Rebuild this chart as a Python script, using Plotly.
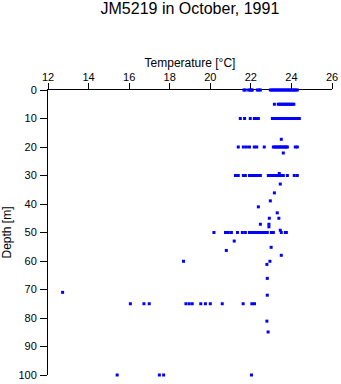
import plotly.graph_objects as go

# ---- data (temperature in degC, depth in m) ----
temp_0m = [21.66, 21.72, 21.89, 21.96, 22.03, 22.07, 22.32, 22.40, 22.47,
           22.96, 23.03, 23.10, 23.17, 23.24, 23.31, 23.38, 23.45, 23.52, 23.59,
           23.66, 23.73, 23.80, 23.87, 23.94, 24.01, 24.08, 24.15, 24.22, 24.29]
temp_5m = [23.16, 23.35, 23.42, 23.49, 23.56, 23.63, 23.70, 23.77, 23.84,
           23.91, 23.98, 24.05, 24.12]
temp_10m = [21.48, 21.69, 21.97, 22.17, 22.22, 22.29, 22.37,
            23.06, 23.13, 23.20, 23.27, 23.34, 23.41, 23.48, 23.55, 23.62, 23.69,
            23.76, 23.83, 23.90, 23.97, 24.04, 24.11, 24.18, 24.25, 24.32, 24.39]
temp_20m = [21.38, 21.63, 21.78, 21.93, 22.17, 22.29, 22.66,
            23.11, 23.18, 23.25, 23.32, 23.39, 23.46, 23.53, 23.60, 23.67, 23.74,
            23.80, 24.19, 24.29]
temp_30m = [21.24, 21.38, 21.63, 21.73, 21.93, 22.00, 22.07, 22.14, 22.21,
            22.28, 22.35, 22.47, 22.86, 22.93, 23.00, 23.07, 23.14, 23.21, 23.28,
            23.35, 23.42, 23.49, 23.60, 23.80, 24.14, 24.29]
temp_50m = [20.18, 20.75, 20.89, 21.04, 21.34, 21.58, 21.73, 21.93, 22.00,
            22.07, 22.14, 22.21, 22.28, 22.35, 22.42, 22.49, 22.56, 22.63, 22.70,
            22.81, 23.01, 23.11, 23.50, 23.70, 23.75]
temp_75m = [16.06, 16.73, 16.99, 18.80, 18.96, 19.11, 19.53, 19.76, 20.00,
            20.59, 21.62, 22.05, 22.18]
temp_100m = [15.41, 17.49, 17.70, 22.03]

other_temp = [23.50, 23.60, 23.40, 23.45, 23.16, 22.96, 22.37, 23.30, 22.91,
              23.38, 22.47, 22.89, 22.89, 23.45, 21.18, 23.00, 20.79, 23.50,
              18.68, 22.94, 22.79, 22.81, 12.72, 22.81, 22.79, 22.85]
other_depth = [17.3, 22.1, 29.3, 33.0, 36.1, 38.9, 41.0, 43.1, 45.0,
               45.0, 47.1, 47.1, 48.0, 49.2, 53.0, 55.2, 56.3, 58.0,
               60.1, 60.1, 61.2, 66.1, 71.0, 72.0, 81.1, 84.9]

rows = [(0, temp_0m), (5, temp_5m), (10, temp_10m), (20, temp_20m),
        (30, temp_30m), (50, temp_50m), (75, temp_75m), (100, temp_100m)]

temps, depths = [], []
for d, ts in rows:
    temps += ts
    depths += [d] * len(ts)
temps += other_temp
depths += other_depth

FONT = "Liberation Sans, Arial, sans-serif"

fig = go.Figure(go.Scatter(
    x=temps, y=depths, mode="markers",
    marker=dict(symbol="square", size=3, color="#0000ff", line=dict(width=0)),
    cliponaxis=False, showlegend=False, hoverinfo="x+y",
))

fig.update_layout(
    width=341, height=384,
    margin=dict(l=48, r=9, t=90, b=9, autoexpand=False),
    paper_bgcolor="white", plot_bgcolor="white",
    font=dict(family=FONT, size=11, color="black"),
    title=dict(text="JM5219 in October, 1991", x=0.557, xanchor="center",
               y=0.977, yanchor="middle", yref="container",
               font=dict(family=FONT, size=16, color="black")),
)
fig.update_xaxes(
    side="top", range=[12, 26], tick0=12, dtick=2, automargin=False,
    showline=True, linecolor="black", linewidth=1, mirror=False,
    ticks="outside", ticklen=6, tickwidth=1, tickcolor="black",
    ticklabelstandoff=-2,
    showgrid=False, zeroline=False, layer="below traces",
    tickfont=dict(family=FONT, size=11, color="black"),
    title=dict(text="Temperature [°C]", standoff=0,
               font=dict(family=FONT, size=12, color="black")),
)
fig.update_yaxes(
    range=[100, 0], tick0=0, dtick=10, automargin=False,
    showline=True, linecolor="black", linewidth=1, mirror=False,
    ticks="outside", ticklen=7, tickwidth=1, tickcolor="black",
    ticklabelstandoff=1,
    showgrid=False, zeroline=False, layer="below traces",
    tickfont=dict(family=FONT, size=11, color="black"),
    title=dict(text="Depth [m]", standoff=6,
               font=dict(family=FONT, size=12, color="black")),
)

fig.write_html("out.html")
